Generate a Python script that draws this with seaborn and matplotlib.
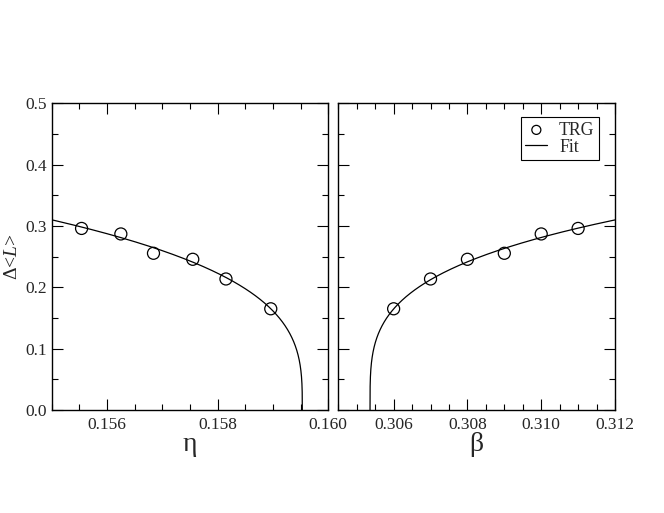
import numpy as np
import pandas as pd
import matplotlib
matplotlib.use("Agg")
import matplotlib.pyplot as plt
from matplotlib.ticker import MultipleLocator, FormatStrFormatter
import seaborn as sns

# Dados TRG
eta = [0.15554, 0.15625, 0.15684, 0.15755, 0.15815, 0.15896]
dL_eta = [0.296, 0.287, 0.2555, 0.2457, 0.2136, 0.165]
beta = [0.306, 0.307, 0.308, 0.309, 0.310, 0.311]
dL_beta = [0.165, 0.2136, 0.2457, 0.2555, 0.287, 0.296]

# Parametros do ajuste  A*|x - xc|^p
eta_c, A_eta, p_eta = 0.15953, 1.5995, 0.304
beta_c, A_beta, p_beta = 0.30536, 1.20, 0.27

sns.set_style("ticks")
plt.rcParams['font.family'] = ['Liberation Serif', 'DejaVu Serif']
plt.rcParams['mathtext.fontset'] = 'custom'
plt.rcParams['mathtext.rm'] = 'Liberation Serif'
plt.rcParams['mathtext.it'] = 'Liberation Serif:italic'

df_eta = pd.DataFrame({'x': eta, 'y': dL_eta})
df_beta = pd.DataFrame({'x': beta, 'y': dL_beta})

# curva do ajuste (densa perto do ponto critico)
t = np.linspace(0, 1, 600) ** 4
fit_eta_x = eta_c - (eta_c - 0.155) * t
fit_eta = pd.DataFrame({'x': fit_eta_x, 'y': A_eta * (eta_c - fit_eta_x) ** p_eta})
fit_beta_x = beta_c + (0.312 - beta_c) * t
fit_beta = pd.DataFrame({'x': fit_beta_x, 'y': A_beta * (fit_beta_x - beta_c) ** p_beta})

fig = plt.figure(figsize=(6.64, 5.13), dpi=100)
axl = fig.add_axes([51.7 / 664, 103 / 513, 276.6 / 664, 306.7 / 513])
axr = fig.add_axes([338.3 / 664, 103 / 513, 276.7 / 664, 306.7 / 513])

for ax, d, f in [(axl, df_eta, fit_eta), (axr, df_beta, fit_beta)]:
    sns.lineplot(data=f, x='x', y='y', ax=ax, color='black', linewidth=0.9,
                 sort=False, estimator=None, label='Fit')
    sns.scatterplot(data=d, x='x', y='y', ax=ax, marker='o', s=75,
                    facecolor='none', edgecolor='black', linewidth=0.9,
                    label='TRG', zorder=3)

axl.set_xlim(0.155, 0.160)
axr.set_xlim(0.3045, 0.312)
for ax in (axl, axr):
    ax.set_ylim(0, 0.5)
    ax.yaxis.set_major_locator(MultipleLocator(0.1))
    ax.yaxis.set_minor_locator(MultipleLocator(0.05))
    ax.xaxis.set_major_locator(MultipleLocator(0.002))
    ax.xaxis.set_minor_locator(MultipleLocator(0.0005))
    ax.xaxis.set_major_formatter(FormatStrFormatter('%.3f'))
    ax.tick_params(which='both', direction='in', top=True, right=True,
                   width=0.8, labelsize=12.5, color='black')
    ax.tick_params(which='major', length=8)
    ax.tick_params(which='minor', length=4)
    ax.tick_params(axis='x', pad=5)
    for s in ax.spines.values():
        s.set_linewidth(1.0)
        s.set_color('black')
    ax.set_ylabel('')

axl.yaxis.set_major_formatter(FormatStrFormatter('%.1f'))
axr.tick_params(labelleft=False)

axl.set_xlabel('η', fontsize=20, labelpad=-1)
axr.set_xlabel('β', fontsize=20, labelpad=-1)
axl.set_ylabel('Δ<$L$>', fontsize=14, labelpad=3)

axl.get_legend().remove()
h, l = axr.get_legend_handles_labels()
axr.legend(h[::-1], l[::-1], loc='upper right', bbox_to_anchor=(0.942, 0.955),
           borderaxespad=0, fontsize=12.8, frameon=True, fancybox=False,
           edgecolor='black', framealpha=1, handlelength=1.25, markerscale=0.75,
           handletextpad=0.65, borderpad=0.25, labelspacing=0.0)
axr.get_legend().get_frame().set_linewidth(0.8)

fig.savefig('out.png', dpi=100)
